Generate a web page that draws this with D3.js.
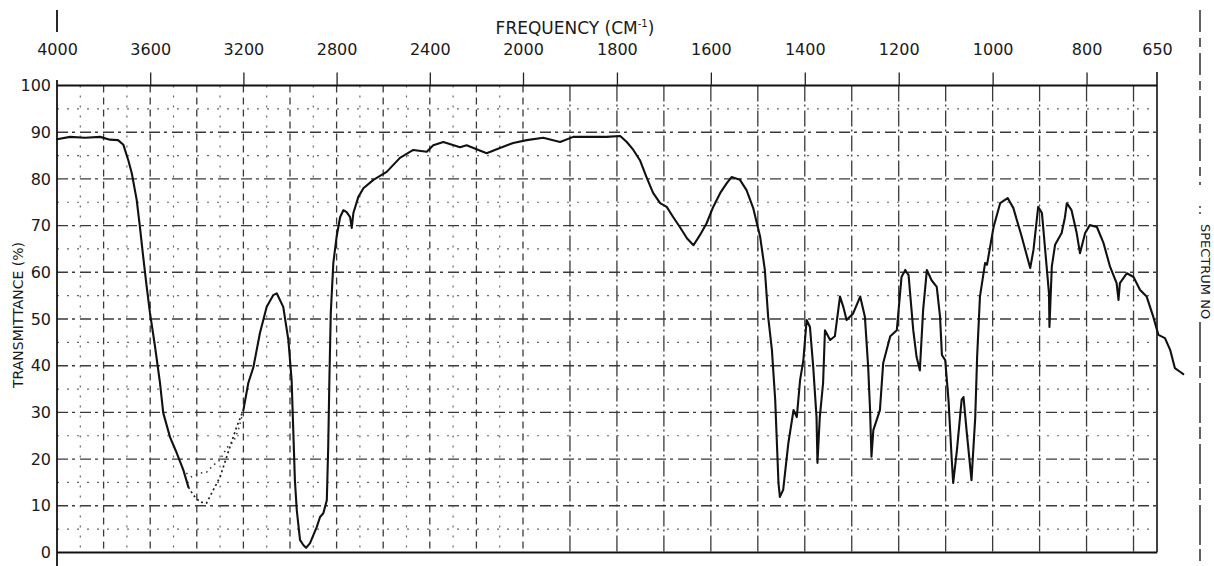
<!DOCTYPE html>
<html>
<head>
<meta charset="utf-8">
<script src="https://cdn.jsdelivr.net/npm/d3@7/dist/d3.min.js"></script>
<style>
  html, body { margin: 0; padding: 0; background: #fff; }
  svg { display: block; }
  text { font-family: "DejaVu Sans", sans-serif; fill: #1a1a1a; }
</style>
</head>
<body>
<svg id="chart" width="1214" height="566"></svg>
<script>
// Infrared spectrum: frequency (cm^-1) vs. transmittance (%)
const wavenumber = [
  4000, 3944, 3880, 3815, 3773, 3738, 3715, 3694, 3679, 3658, 3644, 3630, 3615, 3601,
  3579, 3558, 3544, 3515, 3486, 3458, 3436, 3415, 3386, 3358, 3329, 3300, 3258, 3229,
  3200, 3179, 3157, 3129, 3100, 3072, 3057, 3029, 3007, 2993, 2986, 2979, 2971, 2957,
  2943, 2931, 2914, 2885, 2871, 2857, 2842, 2836, 2831, 2825, 2814, 2800, 2785, 2771,
  2757, 2742, 2735, 2728, 2707, 2685, 2642, 2585, 2528, 2471, 2413, 2385, 2342, 2270,
  2242, 2156, 2099, 2042, 1992, 1957, 1921, 1893, 1864, 1822, 1793, 1779, 1765, 1751,
  1737, 1723, 1708, 1694, 1680, 1666, 1651, 1637, 1623, 1609, 1595, 1580, 1566, 1556,
  1538, 1524, 1510, 1495, 1485, 1478, 1470, 1463, 1456, 1453, 1446, 1435, 1424, 1417,
  1410, 1403, 1396, 1389, 1382, 1375, 1373, 1368, 1361, 1357, 1346, 1336, 1325, 1318,
  1311, 1297, 1282, 1272, 1265, 1261, 1258, 1254, 1240, 1233, 1218, 1204, 1194, 1186,
  1179, 1169, 1162, 1155, 1148, 1140, 1130, 1119, 1112, 1108, 1101, 1094, 1087, 1084,
  1076, 1066, 1062, 1055, 1045, 1037, 1033, 1027, 1016, 1012, 998, 984, 968, 956,
  938, 920, 913, 903, 895, 885, 880, 879, 874, 867, 853, 846, 842, 832,
  821, 814, 803, 793, 778, 764, 750, 736, 732, 729, 714, 700, 686, 672,
  658, 647, 633, 622, 612, 601, 594
];
const transmittance = [
  88.5, 89.0, 88.8, 89.0, 88.4, 88.3, 87.3, 84.0, 81.2, 75.5, 69.7, 63.3, 56.9, 51.3,
  44.0, 36.3, 29.9, 24.7, 21.3, 17.7, 14.0, 12.3, 10.8, 10.6, 13.4, 16.2, 22.6, 26.9,
  30.5, 36.3, 39.7, 47.0, 52.6, 55.1, 55.5, 52.6, 45.5, 36.9, 26.2, 15.5, 9.1, 2.7,
  1.6, 1.0, 2.0, 5.5, 7.6, 8.4, 11.2, 22.6, 36.9, 51.3, 62.0, 67.6, 71.8, 73.3,
  72.9, 71.8, 69.5, 72.7, 76.1, 78.0, 79.8, 81.5, 84.5, 86.2, 85.8, 87.2, 87.9, 86.8,
  87.2, 85.5, 86.6, 87.7, 88.3, 88.8, 87.9, 89.0, 89.0, 89.0, 89.2, 87.9, 86.2, 84.0,
  80.4, 77.0, 74.8, 74.0, 71.8, 69.7, 67.3, 65.8, 68.0, 70.5, 74.0, 77.0, 79.1, 80.4,
  79.8, 77.6, 73.8, 67.6, 60.5, 50.5, 43.4, 32.7, 14.9, 11.9, 13.4, 23.4, 30.5, 29.0,
  36.9, 41.2, 49.8, 48.3, 39.7, 29.0, 19.2, 29.0, 36.3, 47.6, 45.5, 46.3, 54.8, 52.6,
  49.8, 51.2, 54.8, 50.5, 39.7, 30.5, 20.5, 26.2, 30.5, 40.6, 46.3, 47.6, 59.0, 60.5,
  59.4, 47.6, 41.9, 39.0, 51.9, 60.5, 58.3, 56.9, 50.5, 42.3, 41.2, 32.7, 19.8, 14.9,
  21.9, 32.7, 33.3, 25.6, 15.5, 29.0, 41.9, 54.8, 62.0, 61.6, 69.7, 74.8, 75.9, 73.8,
  67.6, 60.9, 64.8, 74.0, 72.7, 61.2, 55.5, 48.3, 61.2, 65.9, 68.4, 71.8, 74.8, 73.3,
  68.4, 64.1, 68.4, 70.1, 69.7, 66.3, 61.2, 57.7, 54.1, 57.7, 59.8, 59.0, 56.2, 54.8,
  50.5, 46.6, 45.9, 43.4, 39.5, 38.7, 38.2
];

// Faint second pen pass through the broad O-H band
const retraceWavenumber = [3445, 3422, 3386, 3358, 3329, 3300, 3272, 3243, 3222, 3202];
const retraceTransmittance = [17.0, 16.2, 17.0, 17.2, 18.7, 19.8, 22.4, 23.7, 26.2, 29.9];

// Pen trace is dotted (faint) across the bottom of the O-H band
const faintFrom = 3436, faintTo = 3200;

const frequencyTicks = [4000, 3600, 3200, 2800, 2400, 2000, 1800, 1600, 1400, 1200, 1000, 800, 650];
const transmittanceTicks = [0, 10, 20, 30, 40, 50, 60, 70, 80, 90, 100];

const svg = d3.select("#chart");

// Chart paper: 4000-2000 at half the scale of 2000-650
const x = d3.scaleLinear().domain([4000, 2000, 650]).range([57, 523, 1157]);
const y = d3.scaleLinear().domain([0, 100]).range([552.5, 85.5]);

// ----- grid -----
const grid = svg.append("g").attr("fill", "none");
const hLines = d3.range(5, 100, 5);
grid.selectAll("line.h").data(hLines).join("line")
  .attr("x1", x(4000)).attr("x2", x(650))
  .attr("y1", d => y(d)).attr("y2", d => y(d))
  .attr("stroke", d => d % 10 === 0 ? "#3a3a3a" : "#666")
  .attr("stroke-width", d => d % 10 === 0 ? 1.4 : 1.2)
  .attr("stroke-dasharray", d => d % 10 === 0 ? "11,4,3,5" : "2,8");

const vLines = d3.range(3900, 650, -100);
grid.selectAll("line.v").data(vLines).join("line")
  .attr("x1", d => x(d)).attr("x2", d => x(d))
  .attr("y1", y(100)).attr("y2", y(0))
  .attr("stroke", d => (d < 2000 || d % 200 === 0) ? "#3a3a3a" : "#666")
  .attr("stroke-width", d => (d < 2000 || d % 200 === 0) ? 1.3 : 1.2)
  .attr("stroke-dasharray", d => d < 2000 ? "16,3,2,4" : (d % 200 === 0 ? "7,5" : "2,8"));

// ----- frame -----
const frame = svg.append("g").attr("stroke", "#111").attr("fill", "none");
frame.append("line").attr("x1", x(4000)).attr("x2", x(650)).attr("y1", y(100)).attr("y2", y(100)).attr("stroke-width", 1.8);
frame.append("line").attr("x1", x(4000)).attr("x2", x(650)).attr("y1", y(0)).attr("y2", y(0)).attr("stroke-width", 1.8);
frame.append("line").attr("x1", x(4000)).attr("x2", x(4000)).attr("y1", 80).attr("y2", 566).attr("stroke-width", 1.8);
frame.append("line").attr("x1", x(4000)).attr("x2", x(4000)).attr("y1", 10).attr("y2", 32).attr("stroke-width", 1.8);
frame.append("line").attr("x1", x(650)).attr("x2", x(650)).attr("y1", 72).attr("y2", y(0)).attr("stroke-width", 1.6);

// ----- axes -----
const topAxis = svg.append("g")
  .attr("transform", `translate(0,${y(100)})`)
  .call(d3.axisTop(x).tickValues(frequencyTicks).tickFormat(d3.format("d")).tickSize(13).tickPadding(17.5));
topAxis.select(".domain").remove();
topAxis.selectAll(".tick line").attr("stroke", "#222").attr("stroke-width", 1.3)
  .filter(d => d === 4000 || d === 650).remove();
topAxis.selectAll(".tick text").attr("font-size", 16).attr("font-family", "DejaVu Sans").attr("fill", "#1a1a1a");

const leftAxis = svg.append("g")
  .attr("transform", `translate(${x(4000)},0)`)
  .call(d3.axisLeft(y).tickValues(transmittanceTicks).tickSize(0).tickPadding(6));
leftAxis.select(".domain").remove();
leftAxis.selectAll(".tick text").attr("font-size", 16).attr("font-family", "DejaVu Sans").attr("fill", "#1a1a1a");

// ----- titles -----
const freqTitle = svg.append("text")
  .attr("x", 575).attr("y", 34).attr("text-anchor", "middle").attr("font-size", 17);
freqTitle.append("tspan").text("FREQUENCY (CM");
freqTitle.append("tspan").attr("font-size", 10).attr("dy", -7).text("-1");
freqTitle.append("tspan").attr("dy", 7).text(")");

svg.append("text")
  .attr("transform", "translate(23,315) rotate(-90)")
  .attr("text-anchor", "middle").attr("font-size", 14)
  .text("TRANSMITTANCE (%)");

// Spectrum number strip on the right
svg.append("line").attr("x1", 1200).attr("x2", 1200).attr("y1", 10).attr("y2", 185)
  .attr("stroke", "#222").attr("stroke-width", 1.4).attr("stroke-dasharray", "22,6,9,6");
svg.append("line").attr("x1", 1200).attr("x2", 1200).attr("y1", 206).attr("y2", 218)
  .attr("stroke", "#333").attr("stroke-width", 1.4).attr("stroke-dasharray", "2,4");
svg.append("line").attr("x1", 1200).attr("x2", 1200).attr("y1", 322).attr("y2", 566)
  .attr("stroke", "#222").attr("stroke-width", 1.4).attr("stroke-dasharray", "40,4,12,5");
svg.append("text")
  .attr("transform", "translate(1201,224) rotate(90)")
  .attr("font-size", 13).attr("text-anchor", "start")
  .text("SPECTRUM NO");

// ----- spectrum trace -----
const pts = wavenumber.map((w, i) => ({ w, t: transmittance[i] }));
const line = d3.line().x(d => x(d.w)).y(d => y(d.t)).curve(d3.curveLinear);

svg.append("path")
  .datum(pts)
  .attr("d", line.defined(d => d.w >= faintFrom || d.w <= faintTo))
  .attr("fill", "none").attr("stroke", "#111").attr("stroke-width", 2.1)
  .attr("stroke-linejoin", "round").attr("stroke-linecap", "round");

svg.append("path")
  .datum(pts)
  .attr("d", d3.line().x(d => x(d.w)).y(d => y(d.t)).defined(d => d.w <= faintFrom && d.w >= faintTo))
  .attr("fill", "none").attr("stroke", "#222").attr("stroke-width", 1.7)
  .attr("stroke-dasharray", "2,3");

const retrace = retraceWavenumber.map((w, i) => ({ w, t: retraceTransmittance[i] }));
svg.append("path")
  .datum(retrace)
  .attr("d", d3.line().x(d => x(d.w)).y(d => y(d.t)))
  .attr("fill", "none").attr("stroke", "#333").attr("stroke-width", 1.5)
  .attr("stroke-dasharray", "1.5,4");
</script>
</body>
</html>
